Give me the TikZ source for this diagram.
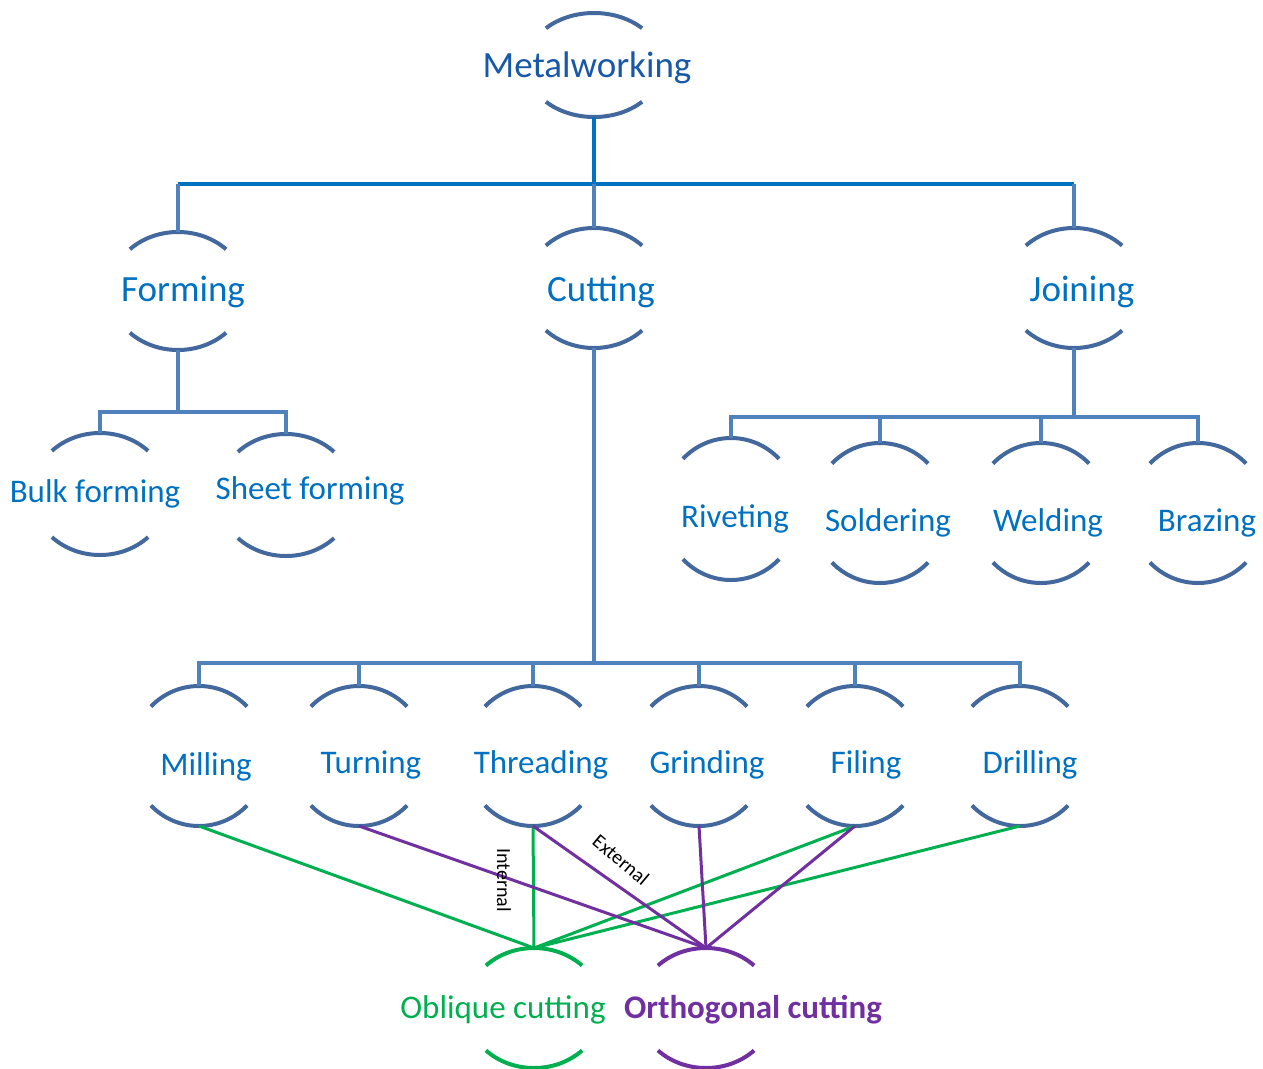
\documentclass[tikz,border=0pt]{standalone}
\usepackage{fontspec}
\setmainfont{Carlito}
\usepackage{tikz}
\usepackage{xcolor}

\definecolor{arcblue}{RGB}{66,104,158}
\definecolor{linkblue}{RGB}{79,129,189}
\definecolor{trunkblue}{RGB}{0,112,192}
\definecolor{textblue}{RGB}{0,112,192}
\definecolor{titleblue}{RGB}{24,88,168}
\definecolor{obgreen}{RGB}{0,176,80}
\definecolor{orpurple}{RGB}{112,48,160}

% two arcs round a coordinate: name, y radius, style
\newcommand{\arcpair}[3]{%
  \draw[#3] (#1) ++(225:68 and #2) arc[start angle=225,end angle=315,x radius=68,y radius=#2];
  \draw[#3] (#1) ++(45:68 and #2) arc[start angle=45,end angle=135,x radius=68,y radius=#2];
  \path (#1) ++(0,-#2) coordinate (#1-t);
  \path (#1) ++(0,#2) coordinate (#1-b);
}

\begin{document}
\begin{tikzpicture}[x=1pt,y=-1pt,
    arcs/.style={arcblue,line width=4pt},
    oblarcs/.style={obgreen,line width=4pt},
    ortarcs/.style={orpurple,line width=4pt},
    trunk/.style={trunkblue,line width=3.4pt},
    link/.style={linkblue,line width=3.2pt},
    oblink/.style={obgreen,line width=3pt},
    ortlink/.style={orpurple,line width=3pt},
    top/.style={anchor=base,text=titleblue,font=\fontsize{37}{44}\selectfont},
    mid/.style={anchor=base,text=textblue,font=\fontsize{37}{44}\selectfont},
    low/.style={anchor=base,text=textblue,font=\fontsize{33}{40}\selectfont},
    tag/.style={text=black,font=\fontsize{20}{24}\selectfont}]

        \useasboundingbox (0,0) rectangle (1263,1068);

        % arc centres
        \coordinate (mw) at (594,65);

        \coordinate (form) at (178,291);
        \coordinate (cut) at (594,288);
        \coordinate (join) at (1074,288);

        \coordinate (bulk) at (100,494);
        \coordinate (sheet) at (286,495);

        \coordinate (rivet) at (731,509);
        \coordinate (solder) at (880,513);
        \coordinate (weld) at (1041,513);
        \coordinate (braze) at (1198,513);

        \coordinate (mill) at (199,756);
        \coordinate (turn) at (359,756);
        \coordinate (thread) at (533,756);
        \coordinate (grind) at (699,756);
        \coordinate (file) at (855,756);
        \coordinate (drill) at (1020,756);

        \coordinate (obl) at (534,1008);
        \coordinate (orth) at (706,1008);

        \arcpair{mw}{52}{arcs}
        \arcpair{form}{59}{arcs}
        \arcpair{cut}{60}{arcs}
        \arcpair{join}{60}{arcs}
        \arcpair{bulk}{61}{arcs}
        \arcpair{sheet}{61}{arcs}
        \arcpair{rivet}{71}{arcs}
        \arcpair{solder}{70}{arcs}
        \arcpair{weld}{70}{arcs}
        \arcpair{braze}{70}{arcs}
        \arcpair{mill}{70}{arcs}
        \arcpair{turn}{70}{arcs}
        \arcpair{thread}{70}{arcs}
        \arcpair{grind}{70}{arcs}
        \arcpair{file}{70}{arcs}
        \arcpair{drill}{70}{arcs}
        \arcpair{obl}{60}{oblarcs}
        \arcpair{orth}{60}{ortarcs}

        % labels
        \node[top] (mw-l) at (587,77) {Metalworking};

        \node[mid] (form-l) at (183,301) {Forming};
        \node[mid] (cut-l) at (601,301) {Cutting};
        \node[mid] (join-l) at (1082,301) {Joining};

        \node[low] (bulk-l) at (95,502) {Bulk forming};
        \node[low] (sheet-l) at (310,499) {Sheet forming};

        \node[low] (rivet-l) at (735,527) {Riveting};
        \node[low] (solder-l) at (888,531) {Soldering};
        \node[low] (weld-l) at (1048,531) {Welding};
        \node[low] (braze-l) at (1207,531) {Brazing};

        \node[low] (mill-l) at (206,775) {Milling};
        \node[low] (turn-l) at (371,773) {Turning};
        \node[low] (thread-l) at (541,773) {Threading};
        \node[low] (grind-l) at (707,773) {Grinding};
        \node[low] (file-l) at (866,773) {Filing};
        \node[low] (drill-l) at (1030,773) {Drilling};

        \node[low,text=obgreen] (obl-l) at (503,1018) {Oblique cutting};
        \node[low,text=orpurple,font=\fontsize{33}{40}\selectfont\bfseries] (orth-l) at (753,1018) {Orthogonal cutting};

        % first level
        \coordinate (hubA) at (594,184);
        \draw[trunk] (mw-b) -- (hubA);
        \draw[trunk] (form-t |- hubA) -- (join-t |- hubA);
        \draw[link] (form-t |- hubA) -- (form-t);
        \draw[link] (hubA) -- (cut-t);
        \draw[link] (join-t |- hubA) -- (join-t);

        % forming
        \path (form-b) ++(0,62) coordinate (hubB);
        \draw[link] (form-b) -- (hubB);
        \draw[link] (bulk-t) -- (bulk-t |- hubB) -- (sheet-t |- hubB) -- (sheet-t);

        % joining
        \path (join-b) ++(0,69) coordinate (hubC);
        \draw[link] (join-b) -- (hubC);
        \draw[link] (rivet-t) -- (rivet-t |- hubC) -- (braze-t |- hubC) -- (braze-t);
        \draw[link] (solder-t) -- (solder-t |- hubC);
        \draw[link] (weld-t) -- (weld-t |- hubC);

        % cutting
        \path (cut-b) ++(0,315) coordinate (hubD);
        \draw[link] (cut-b) -- (hubD);
        \draw[link] (mill-t) -- (mill-t |- hubD) -- (drill-t |- hubD) -- (drill-t);
        \draw[link] (turn-t) -- (turn-t |- hubD);
        \draw[link] (thread-t) -- (thread-t |- hubD);
        \draw[link] (grind-t) -- (grind-t |- hubD);
        \draw[link] (file-t) -- (file-t |- hubD);

        % oblique / orthogonal
        \draw[oblink] (mill-b) -- (obl-t);
        \draw[oblink] (thread-b) -- (obl-t);
        \draw[oblink] (file-b) -- (obl-t);
        \draw[oblink] (drill-b) -- (obl-t);

        \draw[ortlink] (turn-b) -- (orth-t);
        \draw[ortlink] (thread-b) -- (orth-t);
        \draw[ortlink] (grind-b) -- (orth-t);
        \draw[ortlink] (file-b) -- (orth-t);

        \node[tag,rotate=-90] (int-l) at (504,880) {Internal};
        \node[tag,rotate=-40] (ext-l) at (621,860) {External};

    \end{tikzpicture}
\end{document}
